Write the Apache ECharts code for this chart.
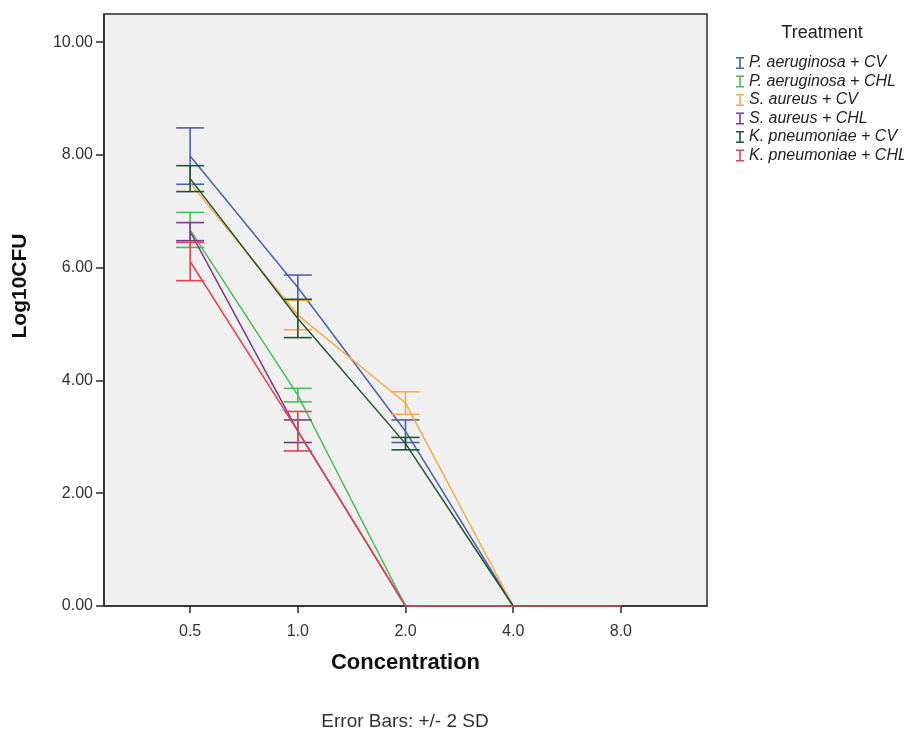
<!DOCTYPE html>
<html>
<head>
<meta charset="utf-8">
<script src="https://cdn.jsdelivr.net/npm/echarts@6/dist/echarts.min.js"></script>
<style>
html,body{margin:0;padding:0;background:#fff;}
#chart{width:904px;height:736px;}
</style>
</head>
<body>
<div id="chart"></div>
<script>
// Categories (concentration)
var concentrations = ['0.5', '1.0', '2.0', '4.0', '8.0'];
// Y tick labels
var yTicks = [0, 2, 4, 6, 8, 10];

// Series names
var treatments = ['P. aeruginosa + CV', 'P. aeruginosa + CHL', 'S. aureus + CV', 'S. aureus + CHL', 'K. pneumoniae + CV', 'K. pneumoniae + CHL'];

// Means (Log10CFU)
var paCV  = [7.98, 5.65, 3.10, 0, 0];
var paCHL = [6.67, 3.74, 0, 0, 0];
var saCV  = [7.50, 5.16, 3.60, 0, 0];
var saCHL = [6.64, 3.10, 0, 0, 0];
var kpCV  = [7.58, 5.10, 2.88, 0, 0];
var kpCHL = [6.11, 3.10, 0, 0, 0];

// Error half-widths (2 SD)
var paCVerr  = [0.50, 0.22, 0.20, 0, 0];
var paCHLerr = [0.31, 0.12, 0, 0, 0];
var saCVerr  = [0, 0.26, 0.20, 0, 0];
var saCHLerr = [0.16, 0.20, 0, 0, 0];
var kpCVerr  = [0.23, 0.34, 0.11, 0, 0];
var kpCHLerr = [0.34, 0.35, 0, 0, 0];

var colors = ['#4a62b2', '#48bd55', '#f4ac45', '#7b3a8a', '#1e5631', '#e2434f'];

var means = [paCV, paCHL, saCV, saCHL, kpCV, kpCHL];
var errs = [paCVerr, paCHLerr, saCVerr, saCHLerr, kpCVerr, kpCHLerr];

var FONT = 'Liberation Sans, Arial, sans-serif';
var chart = echarts.init(document.getElementById('chart'));

var series = [];
treatments.forEach(function (name, s) {
  series.push({
    name: name,
    type: 'line',
    data: means[s].map(function (v, i) { return [i, v]; }),
    symbol: 'none',
    lineStyle: { color: colors[s], width: 1.5 },
    itemStyle: { color: colors[s] },
    z: 2 + s,
    animation: false
  });
  series.push({
    name: name + ' err',
    type: 'custom',
    data: means[s].map(function (v, i) { return [i, v, errs[s][i]]; }).filter(function (d) { return d[2] > 0; }),
    renderItem: function (params, api) {
      var x = api.value(0), m = api.value(1), e = api.value(2);
      var hi = api.coord([x, m + e]);
      var lo = api.coord([x, m - e]);
      var hw = 14;
      var st = { stroke: colors[s], lineWidth: 1.6 };
      return {
        type: 'group',
        children: [
          { type: 'line', shape: { x1: hi[0], y1: hi[1], x2: lo[0], y2: lo[1] }, style: st },
          { type: 'line', shape: { x1: hi[0] - hw, y1: hi[1], x2: hi[0] + hw, y2: hi[1] }, style: st },
          { type: 'line', shape: { x1: lo[0] - hw, y1: lo[1], x2: lo[0] + hw, y2: lo[1] }, style: st }
        ]
      };
    },
    z: 2 + s,
    animation: false
  });
});

var iconI = 'path://M0,0 H8 V1.6 H4.8 V10.4 H8 V12 H0 V10.4 H3.2 V1.6 H0 Z';

chart.setOption({
  animation: false,
  backgroundColor: '#ffffff',
  textStyle: { fontFamily: FONT },
  grid: {
    left: 104, right: 197, top: 14, bottom: 130,
    show: true, backgroundColor: '#f0f0f0', borderColor: '#2b2b2b', borderWidth: 1.5
  },
  legend: {
    orient: 'vertical',
    left: 731, top: 50,
    itemWidth: 8, itemHeight: 12, itemGap: 2.5,
    data: treatments.map(function (n) { return { name: n, icon: iconI }; }),
    textStyle: { fontStyle: 'italic', fontSize: 16, color: '#222', lineHeight: 16, fontFamily: FONT },
    selectedMode: false
  },
  graphic: [
    { type: 'text', x: 822, y: 33, style: { text: 'Treatment', fontSize: 18, fill: '#222', fontFamily: FONT, textAlign: 'center', textVerticalAlign: 'middle' } },
    { type: 'text', x: 405, y: 722, style: { text: 'Error Bars: +/- 2 SD', fontSize: 19, fill: '#333', fontFamily: FONT, textAlign: 'center', textVerticalAlign: 'middle' } },
    { type: 'text', x: 20, y: 286, rotation: Math.PI / 2, style: { text: 'Log10CFU', fontSize: 21, fontWeight: 'bold', fill: '#111', fontFamily: FONT, textAlign: 'center', textVerticalAlign: 'middle' } }
  ],
  xAxis: {
    type: 'value',
    min: -0.8, max: 4.8,
    name: 'Concentration',
    nameLocation: 'middle',
    nameGap: 46,
    nameTextStyle: { fontSize: 22, fontWeight: 'bold', color: '#111' },
    axisLine: { show: true, onZero: false, lineStyle: { color: '#2b2b2b', width: 1.5 } },
    axisTick: { show: true, length: 7, lineStyle: { color: '#2b2b2b', width: 1.5 }, customValues: [0, 1, 2, 3, 4] },
    axisLabel: {
      customValues: [0, 1, 2, 3, 4],
      fontSize: 16, color: '#333', margin: 18,
      formatter: function (v) { var i = Math.round(v); return Math.abs(v - i) < 1e-6 && concentrations[i] ? concentrations[i] : ''; }
    },
    splitLine: { show: false }
  },
  yAxis: {
    type: 'value',
    min: 0, max: 10.5,
    axisLine: { show: true, onZero: false, lineStyle: { color: '#2b2b2b', width: 1.5 } },
    axisTick: { show: true, length: 8, lineStyle: { color: '#2b2b2b', width: 1.5 }, customValues: yTicks },
    axisLabel: {
      customValues: yTicks,
      fontSize: 16, color: '#333', margin: 11,
      formatter: function (v) { return yTicks.indexOf(v) >= 0 ? v.toFixed(2) : ''; }
    },
    splitLine: { show: false }
  },
  series: series
});
</script>
</body>
</html>
